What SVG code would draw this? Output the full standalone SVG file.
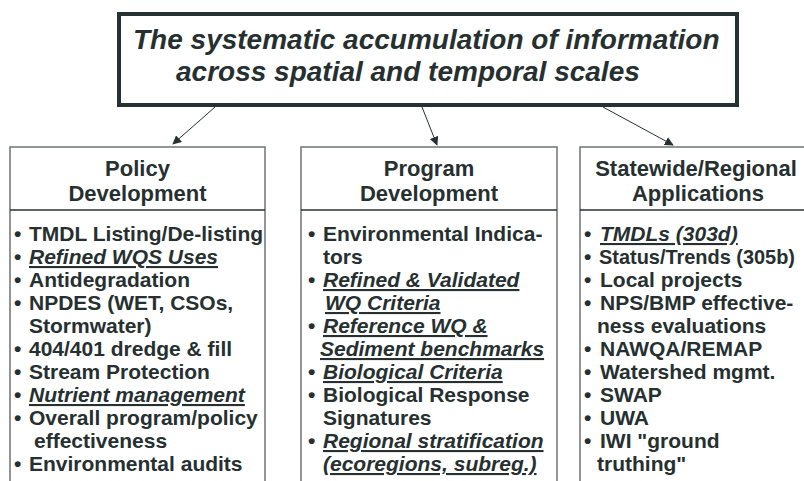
<svg xmlns="http://www.w3.org/2000/svg" width="804" height="481" viewBox="0 0 804 481">
<style>
text { font-family: "Liberation Sans", Arial, sans-serif; fill: #263030; font-weight: bold; }
.title { font-size: 28px; font-style: italic; }
.head { font-size: 22px; text-anchor: middle; }
.item { font-size: 21px; }
.em { font-style: italic; text-decoration: underline; }
.box { fill: #ffffff; stroke: #6f7373; stroke-width: 1.5; }
.div { stroke: #263030; stroke-width: 1.3; }
.conn { stroke: #263030; stroke-width: 1; fill: none; marker-end: url(#ah); }
</style>
<defs>
<marker id="ah" viewBox="0 0 10 10" refX="9" refY="5" markerWidth="9" markerHeight="9" markerUnits="userSpaceOnUse" orient="auto">
<path d="M0,0 L10,5 L0,10 z" fill="#263030"/>
</marker>
</defs>
<rect width="804" height="481" fill="#ffffff"/>
<g id="title">
<rect x="119" y="14" width="618" height="91" fill="#ffffff" stroke="#263232" stroke-width="4"/>
<text class="title" x="133" y="49">The systematic accumulation of information</text>
<text class="title" x="176" y="81">across spatial and temporal scales</text>
</g>
<g id="connectors">
<line class="conn" x1="215" y1="107" x2="173" y2="144"/>
<line class="conn" x1="422" y1="107" x2="437" y2="145"/>
<line class="conn" x1="603" y1="107" x2="673" y2="145"/>
</g>
<g id="policy">
<rect class="box" x="10" y="147" width="255" height="345"/>
<line class="div" x1="10" y1="210" x2="265" y2="210"/>
<text class="head" x="137.5" y="176">Policy</text>
<text class="head" x="137.5" y="201">Development</text>
<text class="item" x="14" y="241">•</text><text class="item" x="29" y="241">TMDL Listing/De-listing</text>
<text class="item" x="14" y="264">•</text><text class="item em" x="29" y="264">Refined WQS Uses</text>
<text class="item" x="14" y="287">•</text><text class="item" x="29" y="287">Antidegradation</text>
<text class="item" x="14" y="310">•</text><text class="item" x="29" y="310">NPDES (WET, CSOs,</text>
<text class="item" x="29" y="333">Stormwater)</text>
<text class="item" x="14" y="356">•</text><text class="item" x="29" y="356">404/401 dredge &amp; fill</text>
<text class="item" x="14" y="379">•</text><text class="item" x="29" y="379">Stream Protection</text>
<text class="item" x="14" y="402">•</text><text class="item em" x="29" y="402">Nutrient management</text>
<text class="item" x="14" y="425">•</text><text class="item" x="29" y="425">Overall program/policy</text>
<text class="item" x="34" y="448">effectiveness</text>
<text class="item" x="14" y="471">•</text><text class="item" x="29" y="471">Environmental audits</text>
</g>
<g id="program">
<rect class="box" x="301" y="147" width="256" height="345"/>
<line class="div" x1="301" y1="210" x2="557" y2="210"/>
<text class="head" x="429" y="176">Program</text>
<text class="head" x="429" y="201">Development</text>
<text class="item" x="308" y="241">•</text><text class="item" x="323" y="241">Environmental Indica-</text>
<text class="item" x="323" y="264">tors</text>
<text class="item" x="308" y="287">•</text><text class="item em" x="323" y="287">Refined &amp; Validated</text>
<text class="item em" x="325" y="310">WQ Criteria</text>
<text class="item" x="308" y="333">•</text><text class="item em" x="323" y="333">Reference WQ &amp;</text>
<text class="item em" x="320" y="356">Sediment benchmarks</text>
<text class="item" x="308" y="379">•</text><text class="item em" x="323" y="379">Biological Criteria</text>
<text class="item" x="308" y="402">•</text><text class="item" x="323" y="402">Biological Response</text>
<text class="item" x="323" y="425">Signatures</text>
<text class="item" x="308" y="448">•</text><text class="item em" x="323" y="448">Regional stratification</text>
<text class="item em" x="323" y="471">(ecoregions, subreg.)</text>
</g>
<g id="statewide">
<rect class="box" x="580" y="147" width="240" height="345"/>
<line class="div" x1="580" y1="210" x2="820" y2="210"/>
<text class="head" x="696" y="176">Statewide/Regional</text>
<text class="head" x="698" y="201">Applications</text>
<text class="item" x="584" y="241">•</text><text class="item em" x="600" y="241">TMDLs (303d)</text>
<text class="item" x="584" y="264">•</text><text class="item" x="599" y="264" textLength="196" lengthAdjust="spacingAndGlyphs">Status/Trends (305b)</text>
<text class="item" x="584" y="287">•</text><text class="item" x="600" y="287">Local projects</text>
<text class="item" x="584" y="310">•</text><text class="item" x="600" y="310">NPS/BMP effective-</text>
<text class="item" x="597" y="333">ness evaluations</text>
<text class="item" x="584" y="356">•</text><text class="item" x="600" y="356">NAWQA/REMAP</text>
<text class="item" x="584" y="379">•</text><text class="item" x="600" y="379">Watershed mgmt.</text>
<text class="item" x="584" y="402">•</text><text class="item" x="600" y="402">SWAP</text>
<text class="item" x="584" y="425">•</text><text class="item" x="600" y="425">UWA</text>
<text class="item" x="584" y="448">•</text><text class="item" x="600" y="448">IWI "ground</text>
<text class="item" x="597" y="471">truthing"</text>
</g>
</svg>
